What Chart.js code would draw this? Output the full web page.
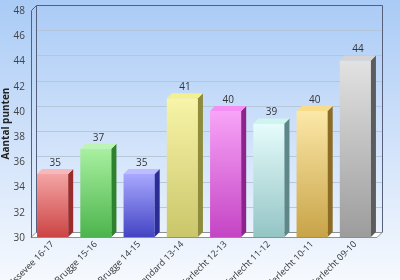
<!DOCTYPE html>
<html>
<head>
<meta charset="utf-8">
<script src="https://cdn.jsdelivr.net/npm/chart.js@4/dist/chart.umd.min.js"></script>
<style>
  html, body { margin: 0; padding: 0; background: #fff; }
  #wrap { width: 400px; height: 280px; }
</style>
</head>
<body>
<div id="wrap"><canvas id="chart" width="400" height="280"></canvas></div>
<script>
// data
const categories = ['Essevee 16-17', 'Club Brugge 15-16', 'Club Brugge 14-15', 'Standard 13-14',
  'Anderlecht 12-13', 'Anderlecht 11-12', 'Anderlecht 10-11', 'Anderlecht 09-10'];
const points = [35, 37, 35, 41, 40, 39, 40, 44];
const yMin = 30, yMax = 48, yStep = 2;
const yTitle = 'Aantal punten';

// bar styling: front gradient top/bottom, side face, top face
const faceLight = ['#f4a4a4', '#a8f0a0', '#a8a8ff', '#f8f4a8', '#f8a4f8', '#e6fcfc', '#fce8a8', '#e2e2e2'];
const faceDark  = ['#cc4444', '#4cb44c', '#4444c4', '#cac66a', '#c444c4', '#94c4c4', '#c8a448', '#9c9c9c'];
const sideCol   = ['#9a2c2c', '#2e822e', '#2c2c96', '#8e8c3c', '#8c248c', '#5e8888', '#8c6c24', '#5c5c5c'];
const topCol    = ['#f6b8b8', '#bcf4b4', '#bcbcff', '#f4f08c', '#f490f4', '#d0f4f0', '#f8dc8c', '#d4d4d4'];

const D = 5; // 3d depth in px

const frame3d = {
  id: 'frame3d',
  beforeDraw(chart) {
    const { ctx, width, height } = chart;
    const g = ctx.createLinearGradient(0, 0, 0, height);
    g.addColorStop(0, '#aacbf6');
    g.addColorStop(1, '#f6f9fe');
    ctx.save();
    ctx.fillStyle = g;
    ctx.fillRect(0, 0, width, height);
    ctx.restore();
  },
  beforeDatasetsDraw(chart) {
    const { ctx, chartArea: a } = chart;
    const y = chart.scales.y;
    ctx.save();
    // grid on back wall
    ctx.strokeStyle = 'rgba(180,196,214,0.9)';
    ctx.lineWidth = 1;
    y.ticks.forEach(t => {
      const py = Math.round(y.getPixelForValue(t.value) - D) + 0.5;
      ctx.beginPath();
      ctx.moveTo(a.left + D, py);
      ctx.lineTo(a.right + D, py);
      ctx.stroke();
    });
    // floor
    const b = Math.round(a.bottom) + 0.5;
    ctx.beginPath();
    ctx.moveTo(a.left, b);
    ctx.lineTo(a.right, b);
    ctx.lineTo(a.right + D, b - D);
    ctx.lineTo(a.left + D, b - D);
    ctx.closePath();
    ctx.fillStyle = '#ffffff';
    ctx.fill();
    ctx.strokeStyle = '#8a8f98';
    ctx.stroke();
    // back wall frame
    const t = Math.round(a.top) + 0.5;
    const l = Math.round(a.left) + 0.5;
    const r = Math.round(a.right) + 0.5;
    ctx.strokeStyle = '#56607a';
    ctx.beginPath();
    ctx.moveTo(l + D, b - D);
    ctx.lineTo(l + D, t - D);
    ctx.lineTo(r + D, t - D);
    ctx.lineTo(r + D, b - D);
    ctx.stroke();
    // front left axis
    ctx.beginPath();
    ctx.moveTo(l, b);
    ctx.lineTo(l, t);
    ctx.lineTo(l + D, t - D);
    ctx.stroke();
    ctx.restore();
  },
  afterDatasetsDraw(chart) {
    const { ctx, chartArea: a } = chart;
    const meta = chart.getDatasetMeta(0);
    ctx.save();
    meta.data.forEach((bar, i) => {
      const { x, y, base, width } = bar.getProps(['x', 'y', 'base', 'width'], true);
      const bot = Math.min(base, a.bottom);
      const l = x - width / 2, r = x + width / 2;
      // side face
      ctx.beginPath();
      ctx.moveTo(r, y);
      ctx.lineTo(r + D, y - D);
      ctx.lineTo(r + D, bot - D);
      ctx.lineTo(r, bot);
      ctx.closePath();
      ctx.fillStyle = sideCol[i];
      ctx.fill();
      // top face
      ctx.beginPath();
      ctx.moveTo(l, y);
      ctx.lineTo(l + D, y - D);
      ctx.lineTo(r + D, y - D);
      ctx.lineTo(r, y);
      ctx.closePath();
      ctx.fillStyle = topCol[i];
      ctx.fill();
      // value label
      ctx.fillStyle = '#333';
      ctx.font = '10px "Open Sans", sans-serif';
      ctx.textAlign = 'center';
      ctx.textBaseline = 'bottom';
      ctx.fillText(String(points[i]), x + D / 2, y - D - 1);
    });
    ctx.restore();
  }
};

new Chart(document.getElementById('chart'), {
  type: 'bar',
  data: {
    labels: categories,
    datasets: [{
      data: points,
      borderWidth: 0,
      backgroundColor: (c) => {
        const chart = c.chart;
        const i = c.dataIndex;
        if (!chart.chartArea || i === undefined) return faceDark[i || 0];
        const top = chart.scales.y.getPixelForValue(points[i]);
        const g = chart.ctx.createLinearGradient(0, top, 0, chart.chartArea.bottom);
        g.addColorStop(0, faceLight[i]);
        g.addColorStop(1, faceDark[i]);
        return g;
      },
      barPercentage: 0.72,
      categoryPercentage: 1
    }]
  },
  options: {
    responsive: false,
    animation: false,
    layout: { padding: { top: 10, right: 23, left: 0, bottom: 0 } },
    plugins: { legend: { display: false }, tooltip: { enabled: false } },
    scales: {
      x: {
        grid: { display: false, drawTicks: false },
        border: { display: false },
        ticks: {
          autoSkip: false, minRotation: 45, maxRotation: 45, padding: 2,
          color: '#333', font: { family: "'Open Sans', sans-serif", size: 9 }
        },
        afterFit: (s) => {
          s.height = 43;
          s.paddingLeft = 0; s.paddingRight = 0;
        }
      },
      y: {
        min: yMin, max: yMax,
        grid: { display: false, drawTicks: false },
        border: { display: false },
        ticks: {
          stepSize: yStep, padding: 6, labelOffset: 1,
          color: '#444', font: { family: "'Open Sans', sans-serif", size: 10 }
        },
        title: {
          display: true, text: yTitle, color: '#222', padding: { top: 0, bottom: 0 },
          font: { family: "'Open Sans', sans-serif", size: 10, weight: 'bold' }
        },
        afterFit: (s) => {
          s.width = 31;
          s.paddingTop = 0; s.paddingBottom = 0;
        }
      }
    }
  },
  plugins: [frame3d]
});
</script>
</body>
</html>
